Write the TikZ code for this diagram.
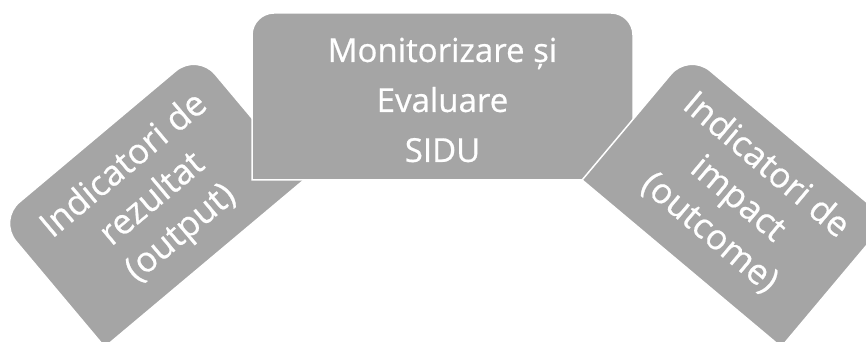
\documentclass[tikz,border=0pt]{standalone}
\usepackage{fontspec}
\setmainfont{Open Sans}[FakeBold=0.6]
\definecolor{boxgray}{HTML}{A5A5A5}
\begin{document}
\begin{tikzpicture}[x=1pt,y=1pt,
  shapefill/.style={fill=boxgray, draw=white, line width=1.5pt},
  lbl/.style={text=white, font=\fontsize{33}{50}\selectfont, align=center, inner sep=0pt},
  rlbl/.style={text=white, font=\fontsize{35}{44}\selectfont, align=center, inner sep=0pt}]
\useasboundingbox (0,0) rectangle (866,342);
\clip (0,0) rectangle (866,342);
% left shape
\begin{scope}[shift={(151,142)}, rotate=40]
  \path[shapefill] (-130,-83) -- (130,-83) -- (130,55)
    arc[start angle=0, end angle=90, radius=28] -- (-102,83)
    arc[start angle=90, end angle=180, radius=28] -- cycle;
\end{scope}
\node[rlbl, rotate=40] (left) at (153,142) {Indicatori de\\rezultat\\(output)};
% centre shape
\path[shapefill] (252,162) -- (633,162) -- (633,307)
  arc[start angle=0, end angle=90, radius=22] -- (274,329)
  arc[start angle=90, end angle=180, radius=22] -- cycle;
\node[lbl] (centre) at (442.5,242) {Monitorizare și\\Evaluare\\SIDU};
% right shape
\begin{scope}[shift={(735,142)}, rotate=-40]
  \path[shapefill] (-130,-83) -- (130,-83) -- (130,55)
    arc[start angle=0, end angle=90, radius=28] -- (-102,83)
    arc[start angle=90, end angle=180, radius=28] -- cycle;
\end{scope}
\node[rlbl, rotate=-40] (right) at (738,143) {Indicatori de\\impact\\(outcome)};
\end{tikzpicture}
\end{document}
